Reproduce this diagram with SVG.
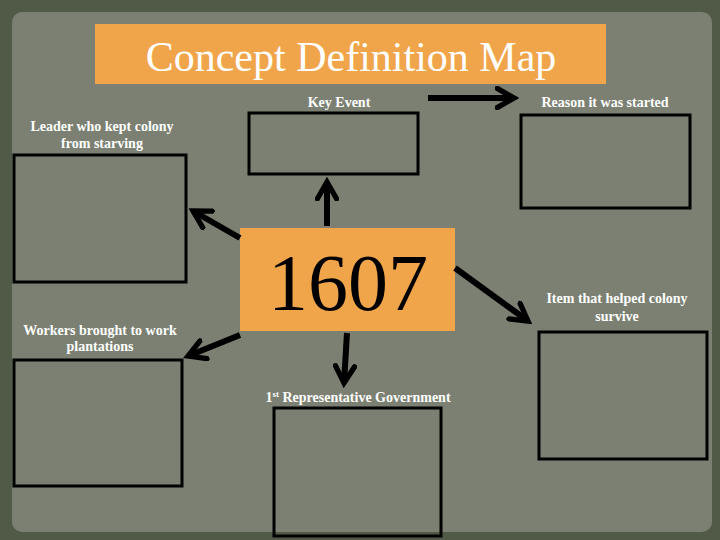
<svg xmlns="http://www.w3.org/2000/svg" width="720" height="540" viewBox="0 0 720 540">
<style>
.box{fill:none;stroke:#000;stroke-width:3}
.lbl{font-family:"Liberation Serif",serif;font-size:14px;font-weight:bold;fill:#fff;text-anchor:middle}
.arr{stroke:#000;stroke-width:6;fill:none;marker-end:url(#ah)}
</style>
<defs>
<marker id="ah" viewBox="0 0 10 10" refX="8" refY="5" markerWidth="4" markerHeight="4" orient="auto" markerUnits="strokeWidth">
<path d="M1,1 L8,5 L1,9" fill="none" stroke="#000" stroke-width="2.2" stroke-linecap="round"/>
</marker>
</defs>
<rect width="720" height="540" fill="#515a47"/>
<rect x="12" y="12" width="700" height="520" rx="10" fill="#7b8072"/>
<g id="title">
<rect x="95" y="24" width="511" height="60" fill="#f0a54a"/>
<text x="351" y="71" font-family="Liberation Serif,serif" font-size="42" fill="#fff" text-anchor="middle">Concept Definition Map</text>
</g>
<g id="center">
<rect x="240" y="228" width="215" height="103" fill="#f0a54a"/>
<text x="348" y="310" font-family="Liberation Serif,serif" font-size="80" fill="#000" text-anchor="middle">1607</text>
</g>
<g id="keyevent"><text class="lbl" x="339" y="107">Key Event</text><rect class="box" x="249" y="113" width="169" height="61"/></g>
<g id="reason"><text class="lbl" x="605" y="107">Reason it was started</text><rect class="box" x="521" y="115" width="169" height="93"/></g>
<g id="leader"><text class="lbl" x="102" y="131">Leader who kept colony</text><text class="lbl" x="102" y="148">from starving</text><rect class="box" x="14" y="155" width="172" height="127"/></g>
<g id="workers"><text class="lbl" x="100" y="335">Workers brought to work</text><text class="lbl" x="100" y="351">plantations</text><rect class="box" x="14" y="360" width="168" height="126"/></g>
<g id="government"><text class="lbl" x="358" y="402">1<tspan font-size="9" dy="-5">st</tspan><tspan dy="5"> Representative Government</tspan></text><rect class="box" x="274" y="408" width="167" height="128"/></g>
<g id="item"><text class="lbl" x="617" y="303">Item that helped colony</text><text class="lbl" x="617" y="321">survive</text><rect class="box" x="539" y="332" width="168" height="127"/></g>
<g id="connectors">
<line class="arr" x1="428" y1="98" x2="514" y2="98"/>
<line class="arr" x1="327" y1="226" x2="327" y2="182"/>
<line class="arr" x1="240" y1="238" x2="193" y2="211"/>
<line class="arr" x1="240" y1="335" x2="188" y2="356"/>
<line class="arr" x1="347" y1="333" x2="344" y2="383"/>
<line class="arr" x1="455" y1="268" x2="528" y2="321"/>
</g>
</svg>
